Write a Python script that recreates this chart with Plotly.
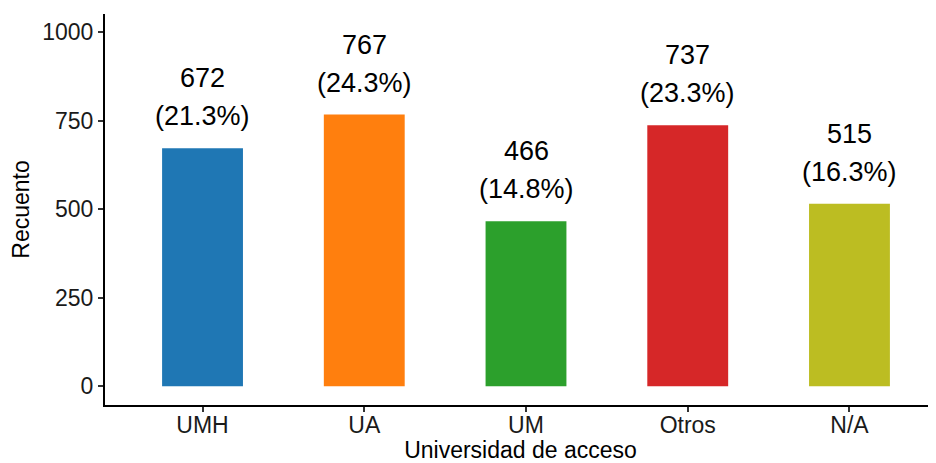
import plotly.graph_objects as go

categories = ["UMH", "UA", "UM", "Otros", "N/A"]
counts = [672, 767, 466, 737, 515]
colors = ["#1f77b4", "#ff7f0e", "#2ca02c", "#d62728", "#bcbd22"]
y_ticks = [0, 250, 500, 750, 1000]

total = sum(counts)
pcts = [c / total * 100 for c in counts]

fig = go.Figure()
fig.add_trace(go.Bar(x=categories, y=counts, marker_color=colors, width=0.5,
                     marker_line_width=0, showlegend=False))

FONT = "Liberation Sans, Arial, sans-serif"
for cat, c, p in zip(categories, counts, pcts):
    fig.add_annotation(x=cat, y=c, text=f"{c}", showarrow=False, yanchor="middle",
                       yshift=70, font=dict(size=27, color="black", family=FONT))
    fig.add_annotation(x=cat, y=c, text=f"({p:.1f}%)", showarrow=False, yanchor="middle",
                       yshift=32, font=dict(size=27, color="black", family=FONT))

# page body has an 8px margin, so the figure is drawn from (8, 8)
fig.update_layout(
    width=928, height=455,
    margin=dict(l=97, r=0, t=6, b=58),
    plot_bgcolor="white", paper_bgcolor="white",
    font=dict(family=FONT, color="black"),
    bargap=0.5,
)
fig.update_xaxes(range=[-0.603, 4.535], showline=True, linecolor="black", linewidth=2,
                 ticks="outside", ticklen=5, tickwidth=2, tickcolor="#333333",
                 tickfont=dict(size=23, color="#1a1a1a"), ticklabelstandoff=-7,
                 title=dict(text="Universidad de acceso", font=dict(size=23), standoff=12),
                 showgrid=False, zeroline=False, automargin=False)
fig.update_yaxes(range=[-52.8, 1051], showline=True, linecolor="black", linewidth=2,
                 tickvals=y_ticks, ticks="outside", ticklen=5, tickwidth=2, tickcolor="#333333",
                 tickfont=dict(size=23, color="#1a1a1a"),
                 title=dict(text="Recuento", font=dict(size=23), standoff=10),
                 showgrid=False, zeroline=False, automargin=False)

fig.write_html("out.html")
